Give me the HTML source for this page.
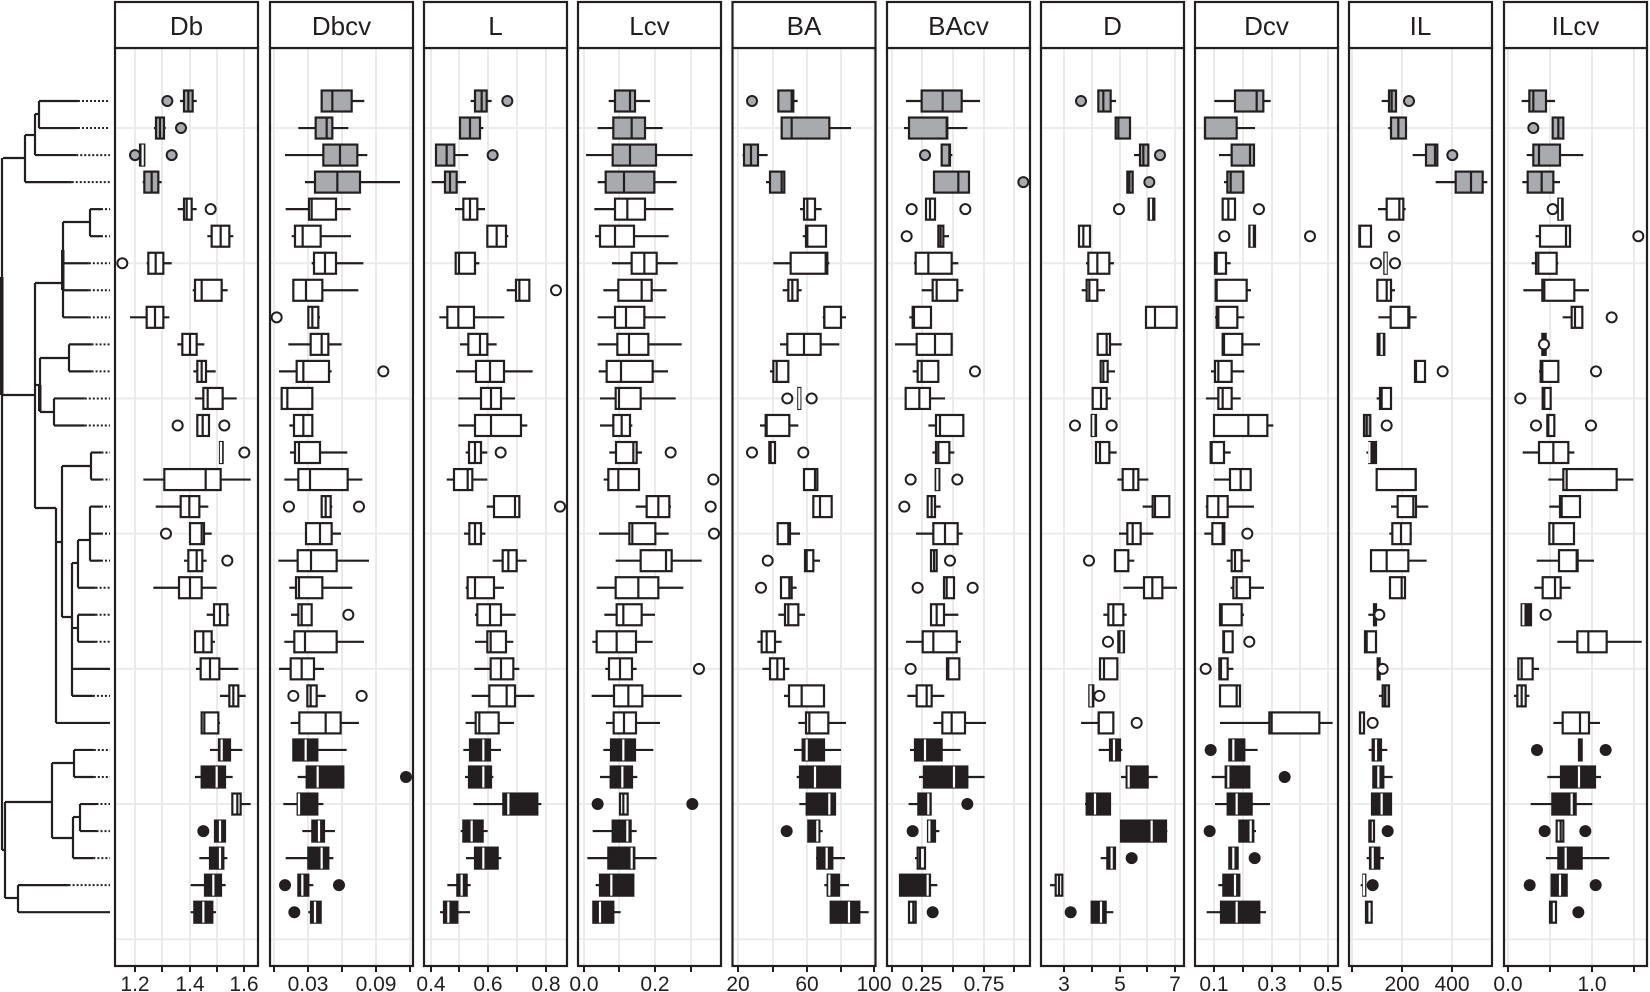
<!DOCTYPE html>
<html><head><meta charset="utf-8"><style>html,body{margin:0;padding:0;background:#fff}svg{display:block}</style></head>
<body>
<svg id="s" width="1650" height="992" xmlns="http://www.w3.org/2000/svg" font-family="Liberation Sans, sans-serif"></svg>
<script>
const S=document.getElementById('s');let h='';
const K='#231f20',G='#a9aaad';
const Y=i=>101+27.04*i;
const lefts=[115,270,424,578,732.5,887,1041,1195,1349,1504],W=143;
const names=['Db','Dbcv','L','Lcv','BA','BAcv','D','Dcv','IL','ILcv'];
const offs=[0,0,420,420,730,730,1040,1040,1340,1340];
const ticks=[[[135,'1.2'],[162,''],[190,'1.4'],[217,''],[244,'1.6']],
[[274,''],[308,'0.03'],[342,''],[376,'0.09'],[410,'']],
[[431,'0.4'],[459,''],[488,'0.6'],[517,''],[546,'0.8']],
[[584,'0.0'],[619,''],[655,'0.2'],[691,'']],
[[738,'20'],[773,''],[807,'60'],[841,''],[874,'100']],
[[892,''],[922,'0.25'],[953,''],[984,'0.75'],[1014,'']],
[[1064,'3'],[1092,''],[1120,'5'],[1147,''],[1175,'7']],
[[1214,'0.1'],[1243,''],[1272,'0.3'],[1300,''],[1328,'0.5']],
[[1352,''],[1402,'200'],[1452,'400']],
[[1508,'0.0'],[1550,''],[1592,'1.0'],[1634,'']]];
const D=[
// Db
[[540,552,565,578,590,[502]],[462,468,480,492,497,[543]],[418,420,428,433,433,[405,515],'k'],[428,433,455,475,485],
[533,552,560,575,590,[632]],[622,635,662,688,700],[440,445,467,490,515,[367]],[578,585,605,665,683],[390,440,465,490,508],[532,547,570,590,613],[580,592,605,618,647],[585,610,623,668,710],[592,592,608,627,627,[533,673]],[658,660,663,668,670,[733],'k'],[430,493,617,662,752],
[467,542,568,598,625],[570,570,605,612,635,[498]],[552,565,590,607,620,[682]],[460,537,570,605,650],[620,642,660,682,688],[585,585,610,635,645],[588,602,630,658,715],[660,688,700,715,737],[603,605,613,655,660],
[630,657,665,690,727],[585,605,650,675,698],[697,697,712,722,752,[],'w'],[645,645,660,675,675,[610]],[598,630,660,670,682],[572,615,640,663,677],[572,583,610,637,648]],
// Dbcv
[[965,965,997,1055,1093],[895,947,980,997,1045],[855,970,1020,1072,1102],[915,945,1012,1080,1200],
[857,927,935,1008,1052],[875,885,908,962,1053],[935,942,975,1008,1090],[880,880,918,967,1075],[925,925,937,955,960,[830]],[865,932,965,985,1025],[837,890,910,987,995,[1150]],[845,845,862,937,937],[868,882,910,937,937],[870,885,897,960,1042],[853,895,930,1043,1087],
[965,965,977,992,997,[867,1077]],[915,918,960,995,1023],[835,893,933,1010,1107],[868,888,897,967,1057],[873,895,905,935,935,[1045]],[853,883,915,1010,1092],[837,872,905,942,972],[922,922,932,950,977,[880,1085]],[872,898,977,1022,1077],
[880,880,917,952,1040],[893,920,953,1030,1033,[1218]],[850,893,897,952,970],[907,937,957,972,1005],[857,925,965,985,1000],[893,895,907,925,940,[855,1017]],[925,933,945,962,962,[883]]],
// L
[[152,165,185,200,215,[262]],[118,120,150,180,190],[45,48,80,103,145,[218]],[35,75,90,110,138],
[105,130,150,172,195],[200,202,230,258,265],[105,107,117,165,178],[260,288,298,328,328,[408]],[58,82,115,162,253],[120,145,180,202,230],[108,168,210,252,338],[115,183,213,243,285],[115,165,213,303,322],[137,147,165,183,202,[242]],[80,102,143,157,202],
[200,222,285,298,300,[420]],[132,148,165,183,196],[218,248,265,290,320],[137,143,165,222,252],[165,172,210,243,287],[165,202,212,258,280],[163,212,243,280,298],[155,208,260,285,343],[137,167,178,236,282],
[130,150,190,210,243],[135,147,190,213,220],[160,250,265,352,364],[122,130,155,188,203],[138,165,190,233,244],[82,112,125,140,152],[60,72,85,112,150]],
// Lcv
[[566,585,630,645,690],[533,580,635,675,728],[498,578,630,708,818],[533,557,612,703,770],
[523,585,622,675,760],[525,540,585,642,746],[576,635,673,710,773],[550,595,665,695,740],[533,585,618,673,737],[533,592,627,685,785],[536,560,603,698,744],[540,587,597,662,767],[540,580,605,630,637],[568,588,640,650,666,[752]],[551,565,595,657,657,[880]],
[647,680,715,748,753,[872]],[537,628,637,706,746,[882]],[587,662,738,755,845],[530,587,655,715,790],[553,590,610,665,705],[517,530,590,648,698],[556,567,600,636,650,[837]],[515,582,625,667,785],[558,581,612,648,720],
[550,573,610,645,700],[540,572,607,636,652],[600,600,610,623,623,[533,817],'w'],[518,578,622,632,650],[502,565,635,643,710],[527,540,574,640,640],[520,520,540,580,602]],
// BA
[[145,145,185,190,203,[66]],[155,155,185,298,363],[38,42,63,84,113],[108,120,155,163,165],
[210,222,232,255,275],[218,228,232,288,288],[130,182,287,292,298],[158,175,187,203,215],[278,283,283,333,348],[150,172,222,272,328],[120,130,140,175,175],[205,205,208,211,211,[172,245],'k'],[90,107,110,178,205],[118,118,122,135,135,[66,220]],[220,222,255,262,262],
[250,250,270,305,307],[143,143,175,180,210],[225,225,230,250,270,[113]],[153,153,178,185,200,[93]],[145,165,175,205,225],[82,95,110,135,155],[97,120,142,162,178],[162,177,215,282,282],[205,228,238,295,348],
[192,218,230,282,333],[200,210,255,330,332],[208,230,298,315,315],[235,235,262,268,278,[170]],[258,262,290,307,345],[283,293,298,327,357],[302,302,357,388,416]],
// BAcv
[[528,575,638,695,750],[522,537,650,652,712],[635,635,658,660,667,[585]],[612,612,685,717,717,[880]],
[588,588,600,615,615,[545,706]],[625,625,632,640,657,[530]],[552,557,595,665,685],[575,608,620,682,700],[538,548,552,603,603],[495,560,615,665,668],[548,563,575,625,625,[735]],[527,527,568,600,645],[595,618,630,700,700],[607,618,625,658,673],[617,617,622,628,628,[542,682],'k'],
[593,593,605,615,632,[523]],[558,610,645,683,698],[603,603,612,620,620,[660]],[642,642,650,672,672,[563,728]],[603,603,620,642,685],[528,578,610,680,693],[651,651,655,688,690,[542]],[532,560,590,605,643],[610,637,665,705,768],
[540,555,585,635,692],[567,582,672,712,764],[536,565,595,602,602,[712]],[592,594,598,615,628,[548]],[555,563,570,585,585,[],'w'],[510,510,593,600,622],[537,537,550,557,557,[608],'w']],
// D
[[175,175,190,212,228,[123]],[227,227,235,270,270],[282,300,310,325,325,[360]],[260,262,268,278,278,[328]],
[326,326,333,343,345,[237],'k'],[117,117,130,150,150],[138,145,172,208,222],[125,140,148,172,195],[315,318,345,410,412],[170,173,200,210,245],[180,182,190,203,225],[155,158,183,200,213],[155,155,160,168,168,[105,215],'k'],[165,168,180,208,230],[232,248,280,295,325],
[308,338,345,388,388],[237,262,278,302,340],[225,225,225,265,283,[147]],[250,312,337,367,411],[190,205,220,250,260],[235,235,245,252,252,[204],'k'],[180,180,192,232,232],[148,148,152,160,160,[178],'k'],[123,176,176,220,220,[290]],
[176,210,222,240,247],[243,260,266,323,353],[135,140,165,210,210],[243,243,335,378,382],[182,202,215,225,225,[275]],[30,47,57,67,67,[],'w'],[155,155,183,197,220,[92]]],
// Dcv
[[523,585,650,670,692],[495,495,495,590,645],[537,575,630,642,645],[552,562,572,610,610],
[548,548,565,585,585,[657]],[628,628,635,645,645,[553,810],'k'],[525,525,530,558,572],[527,527,530,620,633],[525,530,535,592,613],[548,548,552,607,660],[513,525,535,575,613],[498,535,548,575,602],[522,522,625,682,700],[510,512,515,552,572],[522,570,602,632,632],
[497,502,535,563,642],[493,517,548,553,553,[622]],[560,575,585,605,630],[572,580,590,630,672],[538,540,545,605,612],[550,550,552,578,578,[628]],[538,538,543,563,580,[497]],[540,540,590,600,600],[540,688,695,838,878],
[568,568,580,613,653,[512]],[515,557,565,628,628,[734]],[525,563,590,635,690],[598,598,632,640,648,[509]],[568,568,580,593,593,[644]],[535,550,585,598,598],[500,543,590,658,678]],
// IL
[[125,147,155,168,168,[207]],[145,153,175,198,198],[218,258,285,292,292,[337]],[287,347,393,428,442],
[114,140,178,190,197],[58,58,60,93,93,[162]],[133,133,137,140,140,[108,165],'k'],[110,112,140,153,165],[115,152,205,208,230],[113,113,125,133,133,[],'k'],[225,225,228,255,255,[308]],[110,120,125,153,153],[72,72,80,91,91,[140],'g'],[79,88,88,108,108,[],'k'],[110,110,227,227,227],
[153,173,220,228,265],[148,157,183,212,215],[93,93,140,205,260],[148,150,185,195,195],[85,102,103,103,103,[118]],[75,75,80,108,110],[113,113,118,118,118,[128]],[117,128,135,147,147,[],'g'],[60,60,60,72,72,[98]],
[86,98,108,123,142],[98,100,115,130,158],[96,96,125,153,153],[86,88,92,102,102,[143],'w'],[80,90,98,118,132],[62,70,72,72,72,[98]],[78,78,82,95,98,[],'w']],
// ILcv
[[545,568,580,618,645],[638,638,655,670,670,[580]],[560,580,597,660,730],[547,563,605,640,660],
[655,655,660,668,668,[638],'k'],[587,600,678,690,690,[895]],[575,588,595,650,655],[550,607,613,703,747],[668,695,705,727,727,[815]],[605,607,612,617,620,[612]],[597,602,607,655,655,[768]],[608,608,613,632,632,[541]],[622,622,625,643,643,[588,753]],[548,597,640,685,703],[625,670,680,830,880],
[628,660,665,720,720],[628,628,640,702,702],[590,657,710,713,762],[583,608,645,662,692],[545,545,550,573,573,[617],'k'],[652,712,745,800,905],[535,535,545,578,597],[522,532,545,557,568],[640,668,720,747,780],
[717,717,720,725,725,[591,797],'w'],[622,663,717,765,783],[572,637,695,707,757],[650,650,662,670,670,[614,736],'w'],[618,655,677,725,808],[635,635,660,680,680,[569,767]],[630,630,635,648,648,[715],'w']]
];
// gridlines & panels
for(let p=0;p<10;p++){const L=lefts[p];
 h+=`<rect x="${L}" y="48" width="${W}" height="918" fill="#fff"/>`;
 for(const [x] of ticks[p]) if(x>L&&x<L+W) h+=`<line x1="${x}" y1="48" x2="${x}" y2="966" stroke="#ebebeb" stroke-width="2"/>`;
 for(let r=1;r<=31;r+=5) h+=`<line x1="${L}" y1="${Y(r)}" x2="${L+W}" y2="${Y(r)}" stroke="#ebebeb" stroke-width="2"/>`;
}
for(let p=0;p<10;p++){const o=offs[p],X=v=>o+v/3,L=lefts[p];
 h+=`<svg x="${L}" y="48" width="${W}" height="918" overflow="hidden"><g transform="translate(${-L},-48)">`;
 D[p].forEach((d,i)=>{const y=Y(i);let grp=i<4?'g':(i<24?'w':'k');if(d[6])grp=d[6];
  const outGrp=i<4?'g':(i<24?'w':'k');
  const fill=grp=='g'?G:(grp=='k'?K:'#fff'),mc=grp=='k'?'#fff':K;
  const [a,b,c,e,f]=d.slice(0,5).map(X);
  h+=`<line x1="${a}" y1="${y}" x2="${f}" y2="${y}" stroke="${K}" stroke-width="2.2"/>`;
  h+=`<rect x="${b}" y="${y-10.5}" width="${Math.max(e-b,2)}" height="21" fill="${fill}" stroke="${K}" stroke-width="2.2"/>`;
  h+=`<line x1="${c}" y1="${y-10.5}" x2="${c}" y2="${y+10.5}" stroke="${mc}" stroke-width="2.2"/>`;
  (d[5]||[]).forEach(v=>{const of=outGrp=='g'?G:(outGrp=='k'?K:'#fff');h+=`<circle cx="${X(v)}" cy="${y}" r="5" fill="${of}" stroke="${K}" stroke-width="2"/>`;});
 });
 h+=`</g></svg>`;
 h+=`<rect x="${L}" y="48" width="${W}" height="918" fill="none" stroke="${K}" stroke-width="2.2"/>`;
 h+=`<rect x="${L}" y="2" width="${W}" height="46" fill="#fff" stroke="${K}" stroke-width="2.2"/>`;
 h+=`<text x="${L+W/2}" y="35" font-size="26" text-anchor="middle" fill="${K}">${names[p]}</text>`;
 for(const [x,t] of ticks[p]){ if(x<L-1||x>L+W+1) continue;
  h+=`<line x1="${x}" y1="966" x2="${x}" y2="972" stroke="${K}" stroke-width="2"/>`;
  if(t) h+=`<text x="${x}" y="991" font-size="21" text-anchor="middle" fill="${K}">${t}</text>`;}
}
// dendrogram
const ln=(x1,y1,x2,y2)=>h+=`<line x1="${x1}" y1="${y1}" x2="${x2}" y2="${y2}" stroke="${K}" stroke-width="2.2"/>`;
const leaf=(i,bx,solid)=>{const y=Y(i);if(solid){ln(bx,y,110,y);return;}const m=bx+(110-bx)*0.55;ln(bx,y,m,y);h+=`<line x1="${m}" y1="${y}" x2="110" y2="${y}" stroke="${K}" stroke-width="2" stroke-dasharray="2,2"/>`;};
// gray
leaf(0,39);leaf(1,39);ln(39,Y(0),39,Y(1));ln(35,114,39,114);leaf(2,35);ln(35,114,35,Y(2));
ln(25,135,35,135);leaf(3,25);ln(25,135,25,Y(3));ln(3,158,25,158);
// root
ln(2,158,2,850);h+=`<rect x="0" y="277" width="3.5" height="118" fill="${K}"/>`;
// white cluster
ln(2,395,35,395);ln(35,283,35,508);
leaf(4,90);leaf(5,90);ln(90,Y(4),90,Y(5));ln(63,222,90,222);ln(63,222,63,Y(8));
leaf(6,63);leaf(7,63);leaf(8,63);ln(35,283,63,283);h+=`<rect x="61" y="250" width="3.5" height="40" fill="${K}"/>`;
leaf(9,69);leaf(10,69);ln(69,Y(9),69,Y(10));ln(40,358,69,358);
leaf(11,54);leaf(12,54);ln(54,Y(11),54,Y(12));ln(40,412,54,412);ln(40,358,40,412);h+=`<rect x="38" y="385" width="3.5" height="26" fill="${K}"/>`;
ln(35,385,40,385);
leaf(13,91);leaf(14,91);ln(91,Y(13),91,Y(14));ln(62,466,91,466);ln(62,466,62,617);
ln(35,508,56,508);ln(56,508,56,Y(23));ln(56,542,62,542);
leaf(15,90);leaf(16,90);leaf(17,90);ln(90,Y(15),90,Y(17));ln(78,540,90,540);leaf(18,78);ln(78,540,78,Y(18));
ln(72,563,78,563);ln(72,563,72,Y(22));ln(62,617,72,617);
leaf(19,78);leaf(20,78);ln(78,Y(19),78,Y(20));ln(72,628,78,628);
leaf(21,72,true);leaf(22,72);leaf(23,56,true);
// black cluster
leaf(24,74);leaf(25,74);ln(74,Y(24),74,Y(25));ln(52,763,74,763);
leaf(26,80);leaf(27,80);ln(80,Y(26),80,Y(27));ln(73,817,80,817);leaf(28,73);ln(73,817,73,Y(28));ln(52,838,73,838);
ln(52,763,52,838);ln(5,802,52,802);
leaf(29,18);leaf(30,18,true);ln(18,Y(29),18,Y(30));ln(5,898,18,898);ln(5,802,5,898);ln(2,850,5,850);
S.innerHTML=h;
</script>
</body></html>
